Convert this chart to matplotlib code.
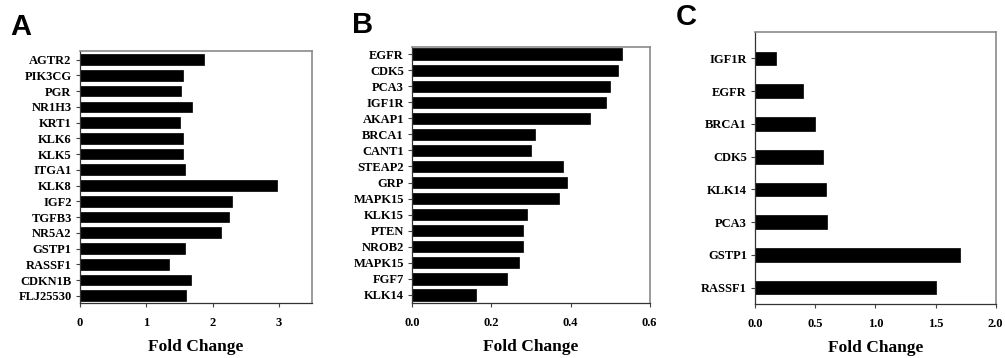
import numpy as np
import matplotlib.pyplot as plt

# Panel A
genes_a = ["AGTR2", "PIK3CG", "PGR", "NR1H3", "KRT1", "KLK6", "KLK5", "ITGA1",
           "KLK8", "IGF2", "TGFB3", "NR5A2", "GSTP1", "RASSF1", "CDKN1B", "FLJ25530"]
fold_a = [1.87, 1.56, 1.52, 1.69, 1.51, 1.56, 1.55, 1.59,
          2.97, 2.29, 2.25, 2.13, 1.59, 1.35, 1.67, 1.60]

# Panel B
genes_b = ["EGFR", "CDK5", "PCA3", "IGF1R", "AKAP1", "BRCA1", "CANT1", "STEAP2",
           "GRP", "MAPK15", "KLK15", "PTEN", "NROB2", "MAPK15", "FGF7", "KLK14"]
fold_b = [0.53, 0.52, 0.50, 0.49, 0.45, 0.31, 0.30, 0.38,
          0.39, 0.37, 0.29, 0.28, 0.28, 0.27, 0.24, 0.16]

# Panel C
genes_c = ["IGF1R", "EGFR", "BRCA1", "CDK5", "KLK14", "PCA3", "GSTP1", "RASSF1"]
fold_c = [0.17, 0.40, 0.50, 0.56, 0.59, 0.60, 1.70, 1.50]

SERIF = "Liberation Serif"
SANS = "Liberation Sans"

fig = plt.figure(figsize=(10.05, 3.58), dpi=100)

# letter, genes, values, axes rect, xlim, xticks, tick format, bar height, ylim, letter pos
panels = [
    ("A", genes_a, fold_a, [0.0796, 0.1528, 0.2308, 0.7056], (0, 3.5), [0, 1, 2, 3], "{:.0f}",
     0.68, (15.48, -0.57), (0.010, 0.902)),
    ("B", genes_b, fold_b, [0.4102, 0.1528, 0.2362, 0.7168], (0, 0.6), [0, 0.2, 0.4, 0.6], "{:.1f}",
     0.7, (15.52, -0.46), (0.350, 0.908)),
    ("C", genes_c, fold_c, [0.7515, 0.1500, 0.2392, 0.7598], (0, 2.0), [0, 0.5, 1.0, 1.5, 2.0], "{:.1f}",
     0.42, (7.51, -0.8), (0.672, 0.930)),
]

for letter, genes, vals, rect, xlim, xticks, fmt, h, ylim, lpos in panels:
    ax = fig.add_axes(rect)
    y = np.arange(len(genes))
    ax.barh(y, vals, height=h, color="black", edgecolor="black", linewidth=0.5)
    ax.set_xlim(*xlim)
    ax.set_ylim(*ylim)
    ax.set_yticks(y)
    ax.set_yticklabels(genes, fontfamily=SERIF, fontweight="bold", fontsize=9)
    ax.set_xticks(xticks)
    ax.set_xticklabels([fmt.format(t) for t in xticks], fontfamily=SERIF,
                       fontweight="bold", fontsize=9)
    ax.tick_params(axis="both", length=3, width=0.8, color="#444444", pad=3)
    ax.tick_params(axis="x", pad=7)
    for side in ["top", "right"]:
        ax.spines[side].set_color("#8a8a8a")
        ax.spines[side].set_linewidth(1.2)
    for side in ["left", "bottom"]:
        ax.spines[side].set_color("#333333")
        ax.spines[side].set_linewidth(0.9)
    ax.set_xlabel("Fold Change", fontfamily=SERIF, fontweight="bold",
                  fontsize=12.5, labelpad=7)
    fig.text(lpos[0], lpos[1], letter, fontfamily=SANS, fontweight="bold",
             fontsize=21, ha="left", va="baseline")

fig.savefig("out.png", dpi=100)
